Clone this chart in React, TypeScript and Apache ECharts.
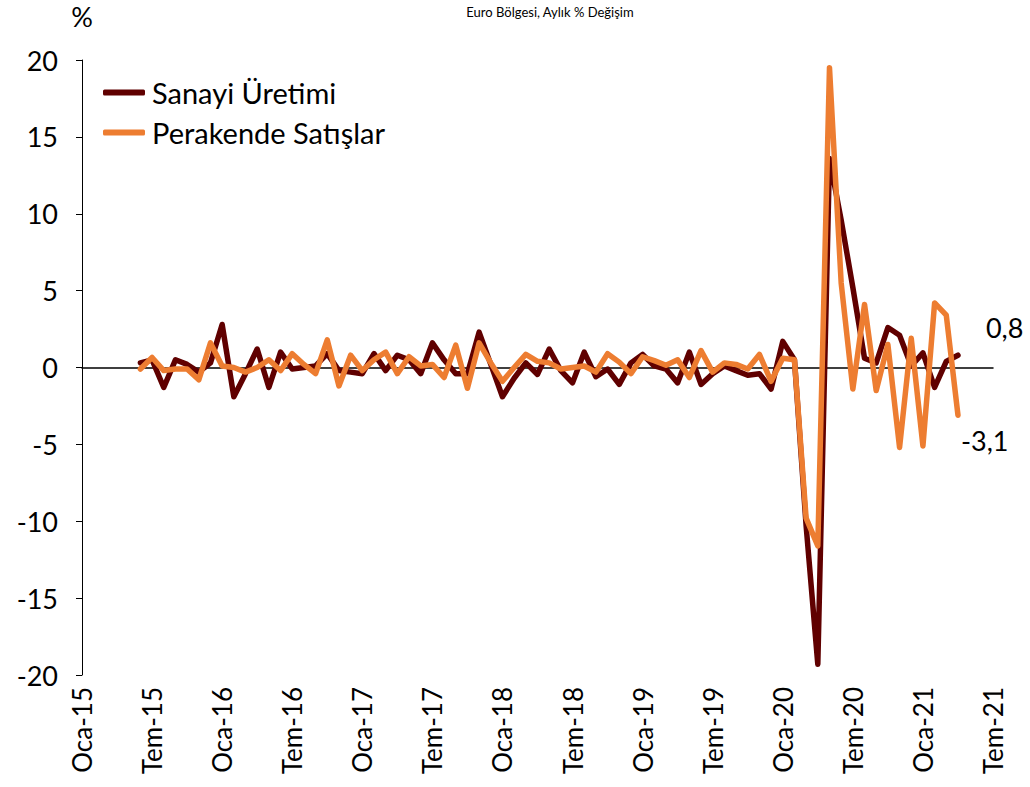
import React, { useEffect, useRef } from "react";
import * as echarts from "echarts";

const monthNames = ["Oca", "Şub", "Mar", "Nis", "May", "Haz", "Tem", "Ağu", "Eyl", "Eki", "Kas", "Ara"];
const years = ["15", "16", "17", "18", "19", "20", "21"];
// Jan 2015 .. Jul 2021
const categories: string[] = [];
years.forEach((y) => monthNames.forEach((m) => categories.push(m + "-" + y)));
categories.splice(79);

// data start: Haz-15 (index 5), end: Nis-21
const startIndex = 5;

const sanayiUretimi = [
  0.3, 0.5, -1.3, 0.5, 0.2, -0.3, 0.3,
  2.8, -1.9, -0.4, 1.2, -1.3, 1.0, -0.1, 0.0, 0.1, 0.9, -0.2, -0.3,
  -0.4, 0.9, -0.2, 0.8, 0.5, -0.4, 1.6, 0.5, -0.4, -0.4, 2.3, 0.2,
  -1.9, -0.7, 0.3, -0.45, 1.2, -0.2, -1.0, 1.0, -0.6, -0.1, -1.1, 0.3,
  0.85, 0.1, -0.1, -1.0, 1.0, -1.1, -0.4, 0.1, -0.2, -0.5, -0.4, -1.4,
  1.7, 0.5, -10.3, -19.3, 13.6, 9.6, 5.2, 0.6, 0.3, 2.6, 2.1, 0.1,
  0.95, -1.3, 0.4, 0.8,
];

const perakendeSatislar = [
  -0.1, 0.65, -0.2, -0.1, -0.1, -0.8, 1.6,
  0.1, 0.0, -0.3, 0.0, 0.5, -0.2, 0.9, 0.2, -0.4, 1.8, -1.2, 0.8,
  -0.2, 0.5, 1.0, -0.4, 0.7, 0.1, 0.2, -0.65, 1.45, -1.35, 1.6, 0.3,
  -0.9, 0.0, 0.85, 0.4, 0.3, -0.1, 0.0, 0.1, -0.3, 0.9, 0.35, -0.4,
  0.7, 0.45, 0.15, 0.5, -0.65, 1.1, -0.3, 0.3, 0.2, -0.1, 0.85, -0.9,
  0.6, 0.5, -9.8, -11.6, 19.5, 5.5, -1.4, 4.1, -1.5, 1.5, -5.2, 1.9,
  -5.1, 4.2, 3.4, -3.1,
];

const lastLabels = ["0,8", "-3,1"];
const seriesNames = ["Sanayi Üretimi", "Perakende Satışlar"];
const colors = ["#600000", "#ED7D31"];

const FONT = "Lato";

function buildData(values: number[]) {
  const out: (number | null)[] = [];
  for (let i = 0; i < startIndex; i++) out.push(null);
  values.forEach((v) => out.push(v));
  return out;
}

export default function App() {
  const ref = useRef<HTMLDivElement>(null);
  useEffect(() => {
    if (!ref.current) return;
    const chart = echarts.init(ref.current, undefined, { renderer: "svg" });
    chart.setOption({
      animation: false,
      backgroundColor: "#fff",
      title: {
        text: "Euro Bölgesi, Aylık % Değişim",
        left: 545,
        textAlign: "center",
        top: 0,
        textStyle: { fontSize: 13, fontWeight: "normal", color: "#000", fontFamily: FONT },
      },
      legend: {
        orient: "vertical",
        left: 98,
        top: 73,
        itemWidth: 42,
        itemHeight: 6,
        itemGap: 11,
        icon: "roundRect",
        data: seriesNames,
        textStyle: { fontSize: 29, fontFamily: FONT, color: "#000", padding: [0, 0, 0, 2] },
      },
      grid: { left: 82, right: 37, top: 60, bottom: 112, containLabel: false },
      xAxis: [
        {
          type: "category",
          data: categories,
          boundaryGap: false,
          axisLine: { show: false, onZero: false },
          axisTick: { show: false },
          axisLabel: {
            interval: 5,
            rotate: 90,
            margin: 12,
            fontSize: 26,
            fontFamily: FONT,
            color: "#000",
          },
          splitLine: { show: false },
        },
        {
          type: "category",
          data: categories,
          boundaryGap: false,
          position: "bottom",
          axisLine: { show: true, onZero: true, lineStyle: { color: "#000", width: 1.5 } },
          axisTick: { show: false },
          axisLabel: { show: false },
          splitLine: { show: false },
        },
      ],
      yAxis: {
        type: "value",
        min: -20,
        max: 20,
        interval: 5,
        name: "%",
        nameLocation: "end",
        nameGap: 30,
        nameTextStyle: { fontSize: 27, fontFamily: FONT, color: "#000", align: "center" },
        axisLine: { show: true, lineStyle: { color: "#000", width: 1 } },
        axisTick: { show: true, length: 6, lineStyle: { color: "#000" } },
        axisLabel: { fontSize: 27, fontFamily: FONT, color: "#000", margin: 24 },
        splitLine: { show: false },
      },
      series: [
        {
          name: seriesNames[0],
          type: "line",
          xAxisIndex: 0,
          data: buildData(sanayiUretimi),
          symbol: "none",
          color: colors[0],
          lineStyle: { width: 5.5, color: colors[0], cap: "round", join: "round" },
          endLabel: {
            show: true,
            formatter: lastLabels[0],
            offset: [20, -28],
            fontSize: 27,
            fontFamily: FONT,
            color: "#000",
          },
          z: 3,
        },
        {
          name: seriesNames[1],
          type: "line",
          xAxisIndex: 0,
          data: buildData(perakendeSatislar),
          symbol: "none",
          color: colors[1],
          lineStyle: { width: 5.5, color: colors[1], cap: "round", join: "round" },
          endLabel: {
            show: true,
            formatter: lastLabels[1],
            offset: [-5, 25],
            fontSize: 27,
            fontFamily: FONT,
            color: "#000",
          },
          z: 4,
        },
      ],
    });
    return () => chart.dispose();
  }, []);
  return (
    <div
      ref={ref}
      style={{ position: "fixed", left: 0, top: 0, width: 1030, height: 787 }}
    />
  );
}
